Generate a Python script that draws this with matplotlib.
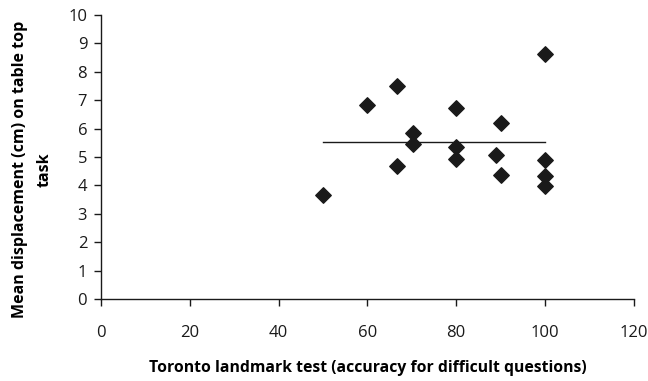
import matplotlib
matplotlib.use('Agg')
import matplotlib.pyplot as plt

# data
landmark_acc = [50, 60, 66.7, 66.7, 70.3, 70.3, 80, 80, 80, 90, 89, 90, 100, 100, 100, 100]
displacement = [3.65, 6.83, 7.48, 4.69, 5.84, 5.44, 6.71, 5.35, 4.92, 6.19, 5.06, 4.37, 4.91, 4.34, 3.99, 8.63]
trend_x = [50, 100]
trend_y = [5.54, 5.54]
x_ticks = [0, 20, 40, 60, 80, 100, 120]
y_ticks = list(range(0, 11))

plt.rcParams['font.family'] = ['Open Sans', 'DejaVu Sans']

fig = plt.figure(figsize=(6.48, 3.81), dpi=100)
ax = fig.add_axes([0.156, 0.215, 0.822, 0.746])

ax.scatter(landmark_acc, displacement, marker='D', s=62, color='#1a1a1a', zorder=3)
ax.plot(trend_x, trend_y, color='#1a1a1a', linewidth=1.0)

ax.set_xlim(0, 120)
ax.set_ylim(0, 10)
ax.set_xticks(x_ticks)
ax.set_yticks(y_ticks)
ax.tick_params(direction='out', length=5, width=1, labelsize=12, colors='#1a1a1a')
ax.tick_params(axis='x', pad=14)
ax.tick_params(axis='y', pad=5)

for s in ['top', 'right']:
    ax.spines[s].set_visible(False)
for s in ['left', 'bottom']:
    ax.spines[s].set_linewidth(1)
    ax.spines[s].set_color('#1a1a1a')

ax.set_xlabel('Toronto landmark test (accuracy for difficult questions)',
              fontsize=11.3, fontweight='bold', labelpad=13)
ax.set_ylabel('Mean displacement (cm) on table top\ntask',
              fontsize=11.5, fontweight='bold', labelpad=11, linespacing=1.75)
ax.yaxis.label.set_y(0.455)

fig.savefig('out.png', dpi=100)
